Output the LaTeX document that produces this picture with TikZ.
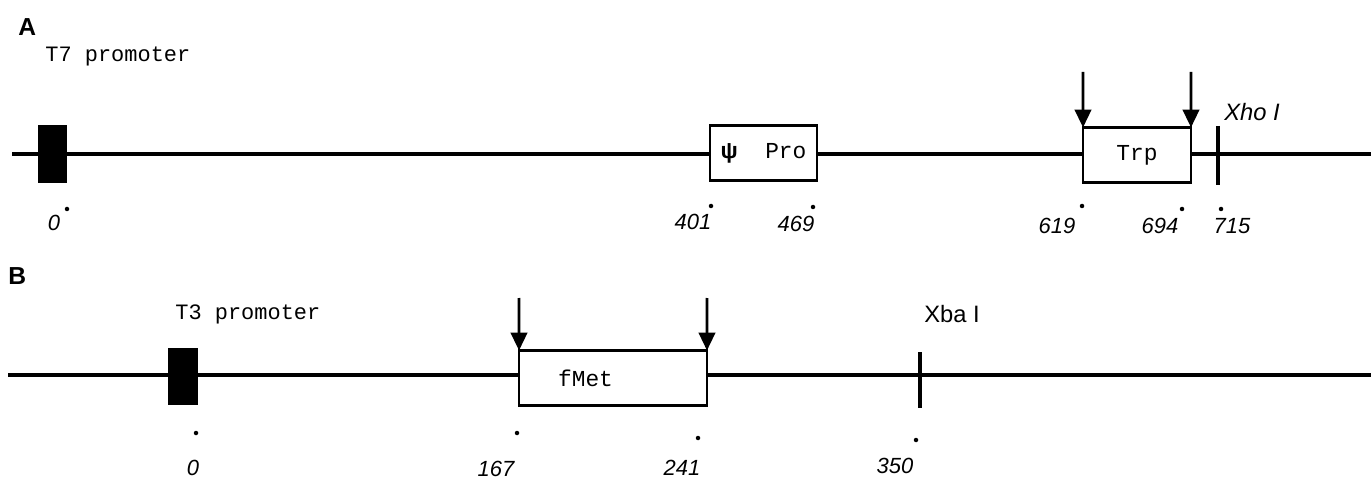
\documentclass[tikz,border=0pt]{standalone}
\usepackage{fontspec}
\setmainfont{Liberation Sans}
\newfontfamily\typefont{Liberation Mono}
\usetikzlibrary{arrows.meta,positioning}

\begin{document}
\begin{tikzpicture}[
  x=0.02cm, y=-0.02cm,
  backbone/.style={line width=2pt},
  promoter/.style={fill=black, draw=none, inner sep=0pt, minimum width=0.59cm, minimum height=1.16cm},
  genebox/.style={draw, line width=1.6pt, fill=white, inner sep=0pt, outer sep=0pt, minimum height=1.1cm, font=\typefont\fontsize{13}{15}\selectfont},
  cutarrow/.style={-{Triangle[length=3.6mm, width=3.3mm]}, line width=1.6pt},
  siteline/.style={line width=1.8pt},
  tag/.style={anchor=west, inner sep=0pt, font=\typefont\fontsize{12.5}{15}\selectfont},
  sitename/.style={anchor=west, inner sep=0pt, font=\fontsize{13.5}{16}\selectfont},
  ntlabel/.style={inner sep=0pt, font=\fontsize{12.5}{15}\selectfont\itshape},
  dotmark/.style={circle, fill=black, inner sep=0pt, minimum size=0.09cm},
  panel/.style={anchor=west, inner sep=0pt, font=\fontsize{14}{16}\selectfont\bfseries}
]
\useasboundingbox (0,0) rectangle (1371,479);

% panel A
\node[panel] (lblA) at (18,27) {A};
\node[tag] (t7) at (45,56) {T7 promoter};
\coordinate (a0) at (12,154);
\coordinate (a1) at (1371,154);
\draw[backbone] (a0) -- (a1);
\node[promoter] (p7) at (52.5,154) {};
\node[genebox, minimum width=2.14cm] (pro) at (763.5,153) {{\rmfamily\bfseries ψ}\ \ Pro};
\node[genebox, minimum width=2.16cm] (trp) at (1137,155) {Trp};
\coordinate (trpL) at (1083,72);
\coordinate (trpR) at (1191,72);
\draw[cutarrow] (trpL) -- (trp.north west);
\draw[cutarrow] (trpR) -- (trp.north east);
\coordinate (xhoT) at (1218,126);
\coordinate (xhoB) at (1218,185);
\draw[siteline] (xhoT) -- (xhoB);
\node[sitename, font=\fontsize{13.5}{16}\selectfont\itshape] (xho) at (1224,112) {Xho I};

\node[dotmark] (d0a) at (67,209) {};
\node[ntlabel] (n0a) at (54,223) {0};
\node[dotmark] (d401) at (711,206) {};
\node[ntlabel] (n401) at (693,222) {401};
\node[dotmark] (d469) at (813,207) {};
\node[ntlabel] (n469) at (796,224) {469};
\node[dotmark] (d619) at (1082,206) {};
\node[ntlabel] (n619) at (1057,226) {619};
\node[dotmark] (d694) at (1182,209) {};
\node[ntlabel] (n694) at (1160,226) {694};
\node[dotmark] (d715) at (1221,209) {};
\node[ntlabel] (n715) at (1232,226) {715};

% panel B
\node[panel] (lblB) at (8,276) {B};
\node[tag] (t3) at (175,314) {T3 promoter};
\coordinate (b0) at (8,375);
\coordinate (b1) at (1371,375);
\draw[backbone] (b0) -- (b1);
\node[promoter] (p3) at (183,376.5) {};
\node[genebox, minimum width=3.76cm] (fmet) at (613,378) {\hspace*{-1.1cm}fMet};
\coordinate (fmetL) at (519,298);
\coordinate (fmetR) at (707,298);
\draw[cutarrow] (fmetL) -- (fmet.north west);
\draw[cutarrow] (fmetR) -- (fmet.north east);
\coordinate (xbaT) at (920,352);
\coordinate (xbaB) at (920,408);
\draw[siteline] (xbaT) -- (xbaB);
\node[sitename] (xba) at (924,314) {Xba I};

\node[dotmark] (d0b) at (196,433) {};
\node[ntlabel] (n0b) at (193,468) {0};
\node[dotmark] (d167) at (517,433) {};
\node[ntlabel] (n167) at (496,469) {167};
\node[dotmark] (d241) at (698,438) {};
\node[ntlabel] (n241) at (682,468) {241};
\node[dotmark] (d350) at (916,440) {};
\node[ntlabel] (n350) at (895,466) {350};
\end{tikzpicture}
\end{document}
